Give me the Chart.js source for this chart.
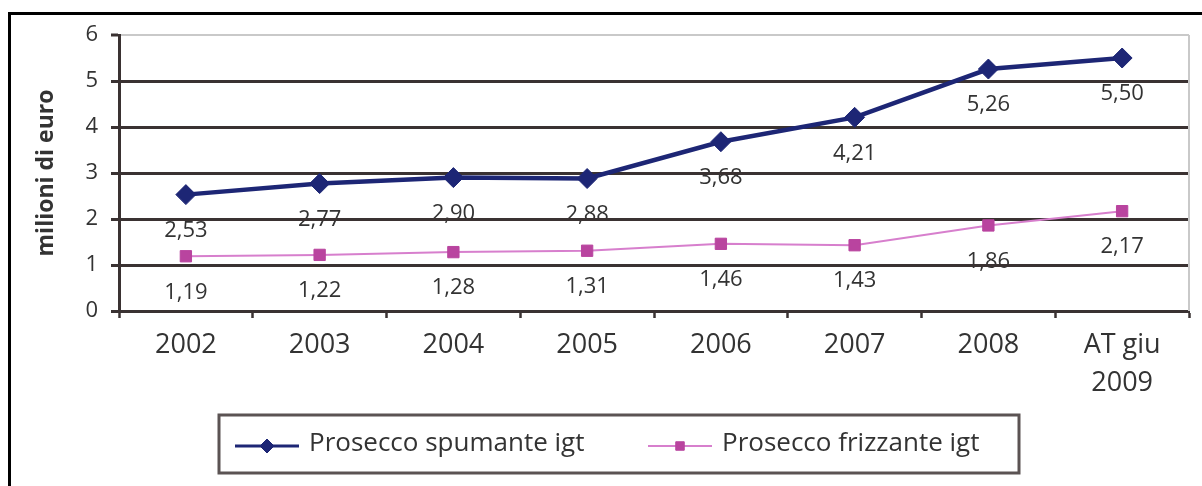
<!DOCTYPE html>
<html lang="it">
<head>
<meta charset="utf-8">
<title>Prosecco igt – milioni di euro</title>
<script src="https://cdn.jsdelivr.net/npm/chart.js@4.4.1/dist/chart.umd.min.js"></script>
<style>
  html, body { margin: 0; padding: 0; background: #ffffff; }
  #wrap { position: relative; width: 1202px; height: 486px; overflow: hidden; }
  #frame {
    position: absolute; left: 8px; top: 12px; right: -10px; bottom: -10px;
    border-left: 3px solid #000; border-top: 3px solid #000;
  }
  #chart { position: absolute; left: 0; top: 0; }
</style>
</head>
<body>
<div id="wrap">
  <div id="frame"></div>
  <canvas id="chart" width="1202" height="486"></canvas>
</div>
<script>
// Years on the x axis (last one is the partial year up to June 2009)
const categories = ['2002', '2003', '2004', '2005', '2006', '2007', '2008', ['AT giu', '2009']];

// Values in millions of euro
const spumanteValues = [2.53, 2.77, 2.90, 2.88, 3.68, 4.21, 5.26, 5.50];
const frizzanteValues = [1.19, 1.22, 1.28, 1.31, 1.46, 1.43, 1.86, 2.17];

const seriesNames = ['Prosecco spumante igt', 'Prosecco frizzante igt'];
const yTicks = [0, 1, 2, 3, 4, 5, 6];
const yTitle = 'milioni di euro';

const FONT = '"Open Sans", "DejaVu Sans", sans-serif';
const TEXT = '#333333';
const GRID_DARK = '#3a3232';
const GRID_LIGHT = '#c9c9c9';
const NAVY = '#1d2675';
const PINK_LINE = '#d77fcd';
const PINK_MARK = '#b9449f';

const fmt = v => v.toFixed(2).replace('.', ',');

// Value labels sit under each point; drawn before the grid so the grid runs over them
const valueLabels = {
  id: 'valueLabels',
  beforeDraw(chart) {
    const ctx = chart.ctx;
    ctx.save();
    ctx.font = '22px ' + FONT;
    ctx.fillStyle = TEXT;
    ctx.textAlign = 'center';
    ctx.textBaseline = 'middle';
    chart.data.datasets.forEach((ds, i) => {
      chart.getDatasetMeta(i).data.forEach((pt, j) => {
        ctx.fillText(fmt(ds.data[j]), pt.x, pt.y + 36);
      });
    });
    ctx.restore();
  }
};

// Light border on the right edge of the plot area
const plotEdge = {
  id: 'plotEdge',
  beforeDatasetsDraw(chart) {
    const {ctx, chartArea: a} = chart;
    ctx.save();
    ctx.strokeStyle = GRID_LIGHT;
    ctx.lineWidth = 2;
    ctx.beginPath();
    ctx.moveTo(a.right, a.top);
    ctx.lineTo(a.right, a.bottom);
    ctx.stroke();
    ctx.restore();
  }
};

// Boxed legend under the chart: line sample with marker, then the series name
const LEGEND = {
  left: 219, top: 415, right: 1019, bottom: 473,
  sampleW: 64, gap: 10, itemStarts: [235, 648],
  lineWidths: [3, 2], markerRadius: [7, 6]
};
const boxedLegend = {
  id: 'boxedLegend',
  afterDraw(chart) {
    const ctx = chart.ctx;
    const L = LEGEND;
    ctx.save();
    ctx.strokeStyle = '#5b5353';
    ctx.lineWidth = 3;
    ctx.strokeRect(L.left, L.top, L.right - L.left, L.bottom - L.top);
    const cy = (L.top + L.bottom) / 2 + 2;
    chart.data.datasets.forEach((ds, i) => {
      const x0 = L.itemStarts[i];
      ctx.strokeStyle = ds.borderColor;
      ctx.lineWidth = L.lineWidths[i];
      ctx.beginPath();
      ctx.moveTo(x0, cy);
      ctx.lineTo(x0 + L.sampleW, cy);
      ctx.stroke();
      ctx.fillStyle = ds.pointBackgroundColor;
      ctx.strokeStyle = ds.pointBorderColor;
      ctx.lineWidth = 1;
      Chart.helpers.drawPoint(ctx, {
        pointStyle: ds.pointStyle,
        radius: L.markerRadius[i],
        borderWidth: 1
      }, x0 + L.sampleW / 2, cy);
      ctx.fillStyle = TEXT;
      ctx.font = '26px ' + FONT;
      ctx.textAlign = 'left';
      ctx.textBaseline = 'middle';
      ctx.fillText(ds.label, x0 + L.sampleW + L.gap, cy - 2);
    });
    ctx.restore();
  }
};

new Chart(document.getElementById('chart'), {
  type: 'line',
  data: {
    labels: categories,
    datasets: [
      {
        label: seriesNames[0],
        data: spumanteValues,
        borderColor: NAVY,
        borderWidth: 4.5,
        pointStyle: 'rectRot',
        pointRadius: 10,
        pointBackgroundColor: NAVY,
        pointBorderColor: NAVY,
        pointBorderWidth: 1,
        tension: 0
      },
      {
        label: seriesNames[1],
        data: frizzanteValues,
        borderColor: PINK_LINE,
        borderWidth: 2,
        pointStyle: 'rect',
        pointRadius: 8,
        pointBackgroundColor: PINK_MARK,
        pointBorderColor: PINK_MARK,
        pointBorderWidth: 1,
        tension: 0
      }
    ]
  },
  options: {
    responsive: false,
    animation: false,
    events: [],
    layout: { padding: { left: 0, top: 35, right: 13, bottom: 0 } },
    plugins: {
      legend: { display: false },
      tooltip: { enabled: false }
    },
    scales: {
      x: {
        offset: true,
        grid: {
          offset: true,
          drawOnChartArea: false,
          drawTicks: true,
          tickLength: 7,
          tickWidth: 2.5,
          tickColor: GRID_DARK
        },
        border: { display: true, color: GRID_DARK, width: 3 },
        ticks: {
          color: TEXT,
          padding: 8,
          maxRotation: 0,
          autoSkip: false,
          font: { family: FONT, size: 27, lineHeight: 1.42 }
        },
        afterFit(scale) { scale.height = 175; }
      },
      y: {
        min: 0,
        max: 6,
        afterBuildTicks(scale) { scale.ticks = yTicks.map(v => ({ value: v })); },
        grid: {
          color: ctx => (ctx.tick && ctx.tick.value === 6 ? GRID_LIGHT : GRID_DARK),
          lineWidth: ctx => (ctx.tick && ctx.tick.value === 6 ? 2 : 3),
          tickColor: GRID_DARK,
          tickLength: 8,
          tickWidth: 3
        },
        border: { display: true, color: GRID_DARK, width: 3 },
        ticks: {
          color: TEXT,
          padding: 13,
          font: { family: FONT, size: 22 }
        },
        title: {
          display: true,
          text: yTitle,
          color: TEXT,
          padding: { top: 33, bottom: 0 },
          font: { family: FONT, size: 23, weight: 'bold' }
        },
        afterFit(scale) { scale.width = 119; }
      }
    }
  },
  plugins: [valueLabels, plotEdge, boxedLegend]
});
</script>
</body>
</html>
